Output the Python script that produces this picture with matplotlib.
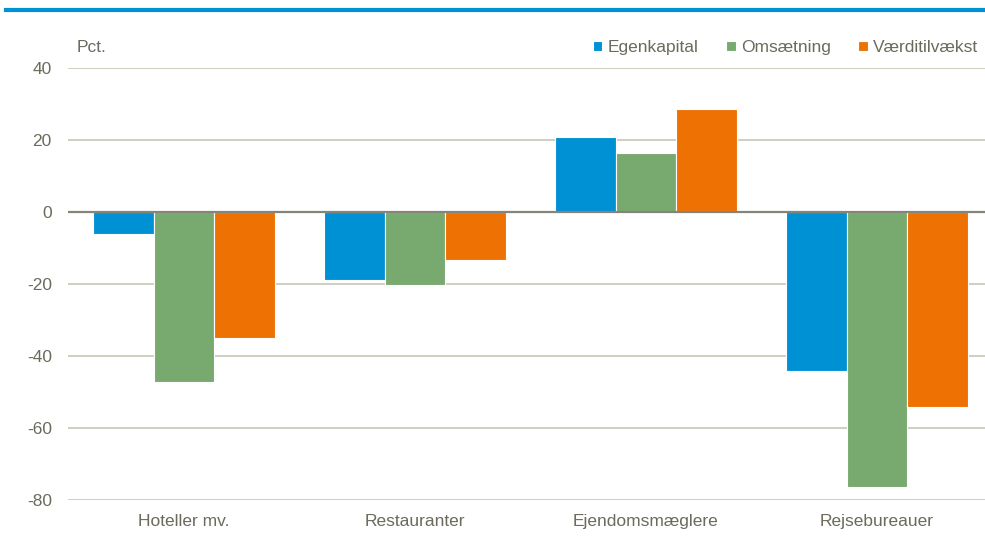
import matplotlib
matplotlib.use("Agg")
import matplotlib.pyplot as plt
import numpy as np

categories = ["Hoteller mv.", "Restauranter", "Ejendomsmæglere", "Rejsebureauer"]
series_names = ["Egenkapital", "Omsætning", "Værditilvækst"]
egenkapital = [-6.0, -19.0, 20.8, -44.0]
omsaetning = [-47.3, -20.4, 16.4, -76.4]
vaerditilvaekst = [-35.0, -13.4, 28.5, -54.0]
y_ticks = [-80, -60, -40, -20, 0, 20, 40]

colors = ["#0091d5", "#78a96f", "#ee7203"]
text_color = "#6b6a5c"

plt.rcParams["font.family"] = ["Liberation Sans Narrow", "Liberation Sans", "DejaVu Sans"]
plt.rcParams["axes.unicode_minus"] = False

fig = plt.figure(figsize=(9.85, 5.39), dpi=100)
ax = fig.add_axes([0.0695, 0.072, 0.938, 0.802])

x = np.arange(len(categories))
width = 0.262
for i, (vals, name) in enumerate(zip([egenkapital, omsaetning, vaerditilvaekst], series_names)):
    ax.bar(x + (i - 1) * width, vals, width, color=colors[i], label=name,
           edgecolor="white", linewidth=0.8, zorder=3)

ax.set_xlim(-0.5, len(categories) - 0.5)
ax.set_ylim(-80, 40)
ax.set_yticks(y_ticks)
ax.set_xticks(x)
ax.set_xticklabels(categories)
ax.tick_params(axis="both", length=0, labelsize=12.5, colors=text_color)
ax.tick_params(axis="y", pad=12)
ax.tick_params(axis="x", pad=10)
ax.grid(axis="y", color="#c6c6b6", linewidth=1.2, zorder=0)
ax.axhline(0, color="#85847a", linewidth=1.6, zorder=4)
for s in ax.spines.values():
    s.set_visible(False)

ax.text(0.009, 1.03, "Pct.", transform=ax.transAxes, fontsize=12.5,
        color=text_color, va="bottom", ha="left")

leg = ax.legend(loc="lower right", bbox_to_anchor=(0.996, 1.005), ncol=3, frameon=False,
                fontsize=12.5, handlelength=0.55, handleheight=0.55,
                handletextpad=0.3, columnspacing=1.6, borderaxespad=0.2)
for t in leg.get_texts():
    t.set_color(text_color)

# blue header rule
fig.add_artist(plt.Line2D([0.006, 1.0], [0.982, 0.982], color="#0091d5", linewidth=3,
                          transform=fig.transFigure))

fig.savefig("out.png", dpi=100)
